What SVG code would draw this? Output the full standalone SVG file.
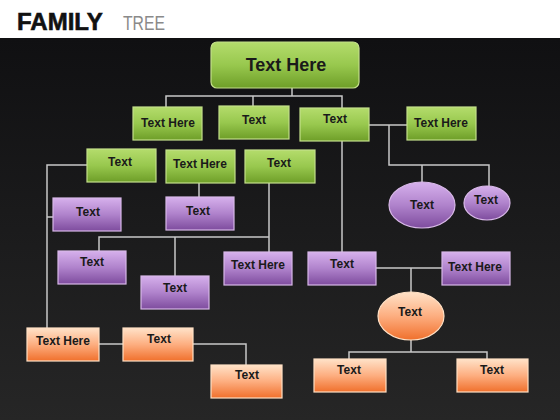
<svg xmlns="http://www.w3.org/2000/svg" width="560" height="420" viewBox="0 0 560 420">
<defs>
<linearGradient id="bg" x1="0" y1="0" x2="0" y2="1"><stop offset="0" stop-color="#101012"/><stop offset="1" stop-color="#262626"/></linearGradient>
<linearGradient id="gG" x1="0" y1="0" x2="0" y2="1"><stop offset="0" stop-color="#b4dc6c"/><stop offset="0.5" stop-color="#98c84e"/><stop offset="1" stop-color="#6e9e28"/></linearGradient>
<linearGradient id="gP" x1="0" y1="0" x2="0" y2="1"><stop offset="0" stop-color="#d6b0ec"/><stop offset="0.5" stop-color="#b083cc"/><stop offset="1" stop-color="#7e4c9e"/></linearGradient>
<linearGradient id="gO" x1="0" y1="0" x2="0" y2="1"><stop offset="0" stop-color="#ffe2c8"/><stop offset="0.5" stop-color="#fdae80"/><stop offset="1" stop-color="#f0702c"/></linearGradient>
</defs>
<style>
.g{fill:url(#gG);stroke:#c4e08a;stroke-width:1.2}
.p{fill:url(#gP);stroke:#d8b8e8;stroke-width:1.2}
.o{fill:url(#gO);stroke:#ffe0c4;stroke-width:1.2}
.t{font-family:"Liberation Sans",Arial,sans-serif;font-weight:bold;font-size:12px;fill:#1a1a1a;text-anchor:middle}
.big{font-size:18px}
.c{fill:none;stroke:#c8c8c8;stroke-width:1.5}
</style>
<rect x="0" y="0" width="560" height="38" fill="#ffffff"/>
<rect x="0" y="38" width="560" height="382" fill="url(#bg)"/>
<text x="17" y="30" font-family="Liberation Sans,Arial,sans-serif" font-weight="bold" font-size="24" fill="#111111" stroke="#111111" stroke-width="0.6">FAMILY</text>
<text x="123" y="30" font-family="Liberation Sans,Arial,sans-serif" font-size="20" fill="#8a8a8a" textLength="42" lengthAdjust="spacingAndGlyphs">TREE</text>
<g id="connectors" class="c">
<path d="M292 88V96M166 107V96H342V108M253 96V107"/>
<path d="M369 125H407M389 125V165H489V187M422 165V182"/>
<path d="M342 141V252"/>
<path d="M87 165H47V328M47 217H53"/>
<path d="M199 183V197"/>
<path d="M269 183V252M269 237H99V251M175 237V276"/>
<path d="M376 268H442M411 268V292"/>
<path d="M411 340V352M349 359V352H487V359"/>
<path d="M99 344H123M193 344H246V365"/>
</g>
<g id="n-root"><rect class="g" x="211" y="42" width="148" height="46" rx="6"/><text class="t big" x="286" y="71">Text Here</text></g>
<g id="n-g1"><rect class="g" x="133" y="107" width="69" height="33"/><text class="t" x="168" y="127">Text Here</text></g>
<g id="n-g2"><rect class="g" x="219" y="106" width="70" height="33"/><text class="t" x="254" y="124">Text</text></g>
<g id="n-g3"><rect class="g" x="300" y="108" width="69" height="33"/><text class="t" x="335" y="123">Text</text></g>
<g id="n-g4"><rect class="g" x="407" y="107" width="69" height="33"/><text class="t" x="441" y="127">Text Here</text></g>
<g id="n-g5"><rect class="g" x="87" y="149" width="69" height="33"/><text class="t" x="120" y="166">Text</text></g>
<g id="n-g6"><rect class="g" x="166" y="150" width="69" height="33"/><text class="t" x="200" y="168">Text Here</text></g>
<g id="n-g7"><rect class="g" x="245" y="150" width="70" height="33"/><text class="t" x="279" y="167">Text</text></g>
<g id="n-e1"><ellipse class="p" cx="422" cy="205" rx="33" ry="23"/><text class="t" x="422" y="209">Text</text></g>
<g id="n-e2"><ellipse class="p" cx="487" cy="203" rx="23" ry="17"/><text class="t" x="486" y="204">Text</text></g>
<g id="n-p1"><rect class="p" x="53" y="198" width="68" height="33"/><text class="t" x="88" y="216">Text</text></g>
<g id="n-p2"><rect class="p" x="166" y="197" width="68" height="33"/><text class="t" x="198" y="215">Text</text></g>
<g id="n-p3"><rect class="p" x="58" y="251" width="68" height="33"/><text class="t" x="92" y="266">Text</text></g>
<g id="n-p4"><rect class="p" x="141" y="276" width="68" height="33"/><text class="t" x="175" y="292">Text</text></g>
<g id="n-p5"><rect class="p" x="224" y="252" width="68" height="33"/><text class="t" x="258" y="269">Text Here</text></g>
<g id="n-p6"><rect class="p" x="308" y="252" width="68" height="33"/><text class="t" x="342" y="268">Text</text></g>
<g id="n-p7"><rect class="p" x="442" y="252" width="68" height="33"/><text class="t" x="475" y="271">Text Here</text></g>
<g id="n-oe"><ellipse class="o" cx="411" cy="316" rx="33" ry="24"/><text class="t" x="410" y="316">Text</text></g>
<g id="n-o1"><rect class="o" x="27" y="328" width="72" height="33"/><text class="t" x="63" y="345">Text Here</text></g>
<g id="n-o2"><rect class="o" x="123" y="328" width="70" height="33"/><text class="t" x="159" y="343">Text</text></g>
<g id="n-o3"><rect class="o" x="211" y="365" width="71" height="33"/><text class="t" x="247" y="379">Text</text></g>
<g id="n-o4"><rect class="o" x="314" y="359" width="72" height="33"/><text class="t" x="349" y="374">Text</text></g>
<g id="n-o5"><rect class="o" x="457" y="359" width="71" height="33"/><text class="t" x="492" y="374">Text</text></g>
</svg>
